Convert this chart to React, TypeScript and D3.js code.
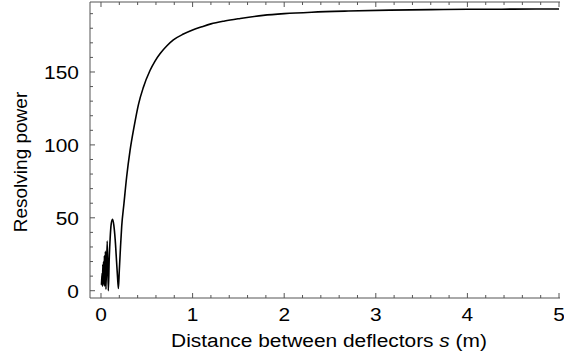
import React from "react";
import * as d3 from "d3";

const sValues = [
  0.005, 0.012, 0.016, 0.02, 0.024, 0.028, 0.032, 0.037, 0.042, 0.048, 0.054,
  0.068, 0.08, 0.09, 0.1, 0.112, 0.127, 0.14, 0.155, 0.17, 0.18, 0.19, 0.2,
  0.213, 0.226, 0.251, 0.28, 0.317, 0.36, 0.41, 0.46, 0.535, 0.59, 0.644, 0.72,
  0.79, 0.9, 1.0, 1.1, 1.2, 1.35, 1.52, 1.77, 2.0, 2.3, 2.7, 3.15, 3.6, 4.0,
  4.5, 5.0,
];
const resolvingPower = [
  4, 12, 3, 18, 5, 20, 4, 24, 3, 27, 1, 34, 0, 22, 36, 46, 49, 45, 35, 20, 10,
  1.5, 14, 30, 44, 60, 78, 96, 112, 128, 139, 151, 157.5, 162.5, 168, 172, 176,
  178.8, 181, 183, 185, 186.7, 188.8, 190, 191, 191.8, 192.4, 192.8, 193,
  193.1, 193.2,
];
const xTickLabels = [0, 1, 2, 3, 4, 5];
const yTickLabels = [0, 50, 100, 150];

const W = 564;
const H = 355;
const left = 90;
const right = 559;
const top = 2;
const bottom = 298;

export default function App() {
  const x = d3.scaleLinear().domain([-0.12, 5]).range([left, right]);
  const y = d3.scaleLinear().domain([-5, 198]).range([bottom, top]);
  const pts = sValues.map((s, i) => [s, resolvingPower[i]] as [number, number]);
  const line = d3
    .line<[number, number]>()
    .x((d) => x(d[0]))
    .y((d) => y(d[1]))
    .curve(d3.curveMonotoneX);

  const xMinor = d3.range(0, 5.0001, 0.2);
  const yMinor = d3.range(0, 198, 10);
  const axisColor = "#555";
  const font = "'Liberation Sans', Arial, Helvetica, sans-serif";
  const sx = 1.1;

  return (
    <svg
      width={W}
      height={H}
      style={{ position: "absolute", left: 0, top: 0, background: "#fff" }}
      fontFamily={font}
    >
      <line x1={left} x2={left} y1={top} y2={bottom} stroke={axisColor} strokeWidth={1} />
      <line x1={left} x2={right + 1} y1={bottom} y2={bottom} stroke={axisColor} strokeWidth={1} />
      <line x1={left} x2={right + 1} y1={top} y2={top} stroke={axisColor} strokeWidth={1} />
      {xMinor.map((v, i) => {
        const major = Math.abs(v - Math.round(v)) < 1e-6;
        const len = major ? 5 : 3;
        return (
          <g key={"xt" + i}>
            <line x1={x(v)} x2={x(v)} y1={bottom} y2={bottom - len} stroke={axisColor} />
            <line x1={x(v)} x2={x(v)} y1={top} y2={top + len} stroke={axisColor} />
          </g>
        );
      })}
      {yMinor.map((v, i) => {
        const major = v % 50 === 0;
        const len = major ? 5 : 3;
        return (
          <line key={"yt" + i} x1={left} x2={left + len} y1={y(v)} y2={y(v)} stroke={axisColor} />
        );
      })}
      {xTickLabels.map((v) => (
        <text
          key={"xl" + v}
          transform={`translate(${x(v)},321) scale(${sx},1)`}
          textAnchor="middle"
          fontSize={19}
          fill="#000"
        >
          {v}
        </text>
      ))}
      {yTickLabels.map((v) => (
        <text
          key={"yl" + v}
          transform={`translate(79,${y(v) + 7}) scale(${sx},1)`}
          textAnchor="end"
          fontSize={19}
          fill="#000"
        >
          {v}
        </text>
      ))}
      <text
        transform={`translate(329,347) scale(${sx},1)`}
        textAnchor="middle"
        fontSize={19}
        fill="#000"
      >
        Distance between deflectors <tspan fontStyle="italic">s</tspan> (m)
      </text>
      <text
        transform="translate(27,162) rotate(-90)"
        textAnchor="middle"
        fontSize={19}
        fill="#000"
      >
        Resolving power
      </text>
      <path d={line(pts) || ""} fill="none" stroke="#000" strokeWidth={1.6} />
    </svg>
  );
}
